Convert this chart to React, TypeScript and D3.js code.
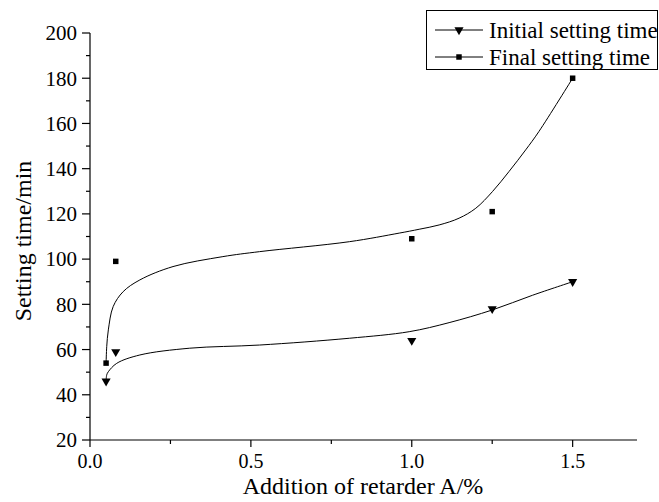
import * as d3 from 'd3';
import * as React from 'react';

// measured points
const dosage = [0.05, 0.08, 1.0, 1.25, 1.5];
const initialTime = [46, 59, 64, 78, 90];
const finalTime = [54, 99, 109, 121, 180];

// fitted curves
const initialFitX = [0.05, 0.052, 0.057, 0.083, 0.155, 0.31, 0.527, 0.806, 0.992, 1.116, 1.25, 1.375, 1.5];
const initialFit = [46, 48.8, 50.2, 53.9, 57.6, 60.6, 62, 65, 67.9, 71.9, 77.5, 84, 90];
const finalFitX = [0.05, 0.052, 0.057, 0.072, 0.103, 0.155, 0.258, 0.413, 0.527, 0.806, 0.961, 1.023, 1.085, 1.147, 1.199, 1.251, 1.302, 1.354, 1.395, 1.5];
const finalFit = [54, 61.3, 68.7, 79, 85.6, 90.8, 96.7, 101.1, 103.3, 107.7, 111.5, 113.2, 115.1, 118.1, 122.5, 129.9, 138.7, 148.3, 156.4, 180];

const xTicks = [0, 0.5, 1.0, 1.5];
const xMinor = [0.25, 0.75, 1.25];
const yTicks = [20, 40, 60, 80, 100, 120, 140, 160, 180, 200];
const yMinor = [30, 50, 70, 90, 110, 130, 150, 170, 190];

const legendLabels = ['Initial setting time', 'Final setting time'];

const W = 659;
const H = 502;
const font = 'Liberation Serif, Times New Roman, DejaVu Serif, serif';

export default function App() {
    const x = d3.scaleLinear().domain([0, 1.7]).range([90, 637]);
    const y = d3.scaleLinear().domain([20, 200]).range([440, 33]);

    const line = d3.line<[number, number]>()
        .x(d => x(d[0]))
        .y(d => y(d[1]))
        .curve(d3.curveCatmullRom);

    const initialPath = line(initialFitX.map((v, i) => [v, initialFit[i]] as [number, number]));
    const finalPath = line(finalFitX.map((v, i) => [v, finalFit[i]] as [number, number]));

    const tri = d3.symbol().type(d3.symbolTriangle).size(36)();
    const sq = d3.symbol().type(d3.symbolSquare).size(30)();

    const x0 = x(0);
    const y0 = y(20);

    return (
        <svg width={W} height={H} style={{ position: 'absolute', left: 0, top: 0, background: '#fff' }}>
            {/* axes */}
            <line x1={x0} x2={x(1.7)} y1={y0} y2={y0} stroke="#000" strokeWidth={1.2} />
            <line x1={x0} x2={x0} y1={y0} y2={y(200)} stroke="#000" strokeWidth={1.2} />
            {xTicks.map(t => (
                <g key={'xt' + t}>
                    <line x1={x(t)} x2={x(t)} y1={y0} y2={y0 + 7} stroke="#000" strokeWidth={1.2} />
                    <text x={x(t)} y={y0 + 28} fontFamily={font} fontSize={20} textAnchor="middle">{t.toFixed(1)}</text>
                </g>
            ))}
            {xMinor.map(t => (
                <line key={'xm' + t} x1={x(t)} x2={x(t)} y1={y0} y2={y0 + 4} stroke="#000" strokeWidth={1.2} />
            ))}
            {yTicks.map(t => (
                <g key={'yt' + t}>
                    <line x1={x0 - 8} x2={x0} y1={y(t)} y2={y(t)} stroke="#000" strokeWidth={1.2} />
                    <text x={x0 - 13} y={y(t)} dy="0.35em" fontFamily={font} fontSize={21} textAnchor="end">{t}</text>
                </g>
            ))}
            {yMinor.map(t => (
                <line key={'ym' + t} x1={x0 - 4} x2={x0} y1={y(t)} y2={y(t)} stroke="#000" strokeWidth={1.2} />
            ))}
            <text x={363} y={494} fontFamily={font} fontSize={24} textAnchor="middle">Addition of retarder A/%</text>
            <text transform={`translate(31,241) rotate(-90)`} fontFamily={font} fontSize={24} textAnchor="middle">Setting time/min</text>

            {/* curves */}
            <path d={initialPath} fill="none" stroke="#000" strokeWidth={1} />
            <path d={finalPath} fill="none" stroke="#000" strokeWidth={1} />

            {/* points */}
            {dosage.map((d, i) => (
                <path key={'i' + i} d={tri} transform={`translate(${x(d)},${y(initialTime[i])}) rotate(180)`} fill="#000" />
            ))}
            {dosage.map((d, i) => (
                <path key={'f' + i} d={sq} transform={`translate(${x(d)},${y(finalTime[i])})`} fill="#000" />
            ))}

            {/* legend */}
            <rect x={426.5} y={10.5} width={231} height={59} fill="#fff" stroke="#000" strokeWidth={1} />
            {legendLabels.map((label, i) => {
                const cy = 30 + i * 27;
                return (
                    <g key={label}>
                        <line x1={435} x2={483} y1={cy} y2={cy} stroke="#000" strokeWidth={1} />
                        <path d={i === 0 ? tri : sq} transform={`translate(459,${cy})${i === 0 ? ' rotate(180)' : ''}`} fill="#000" />
                        <text x={489} y={cy} dy="0.33em" fontFamily={font} fontSize={23}>{label}</text>
                    </g>
                );
            })}
        </svg>
    );
}
